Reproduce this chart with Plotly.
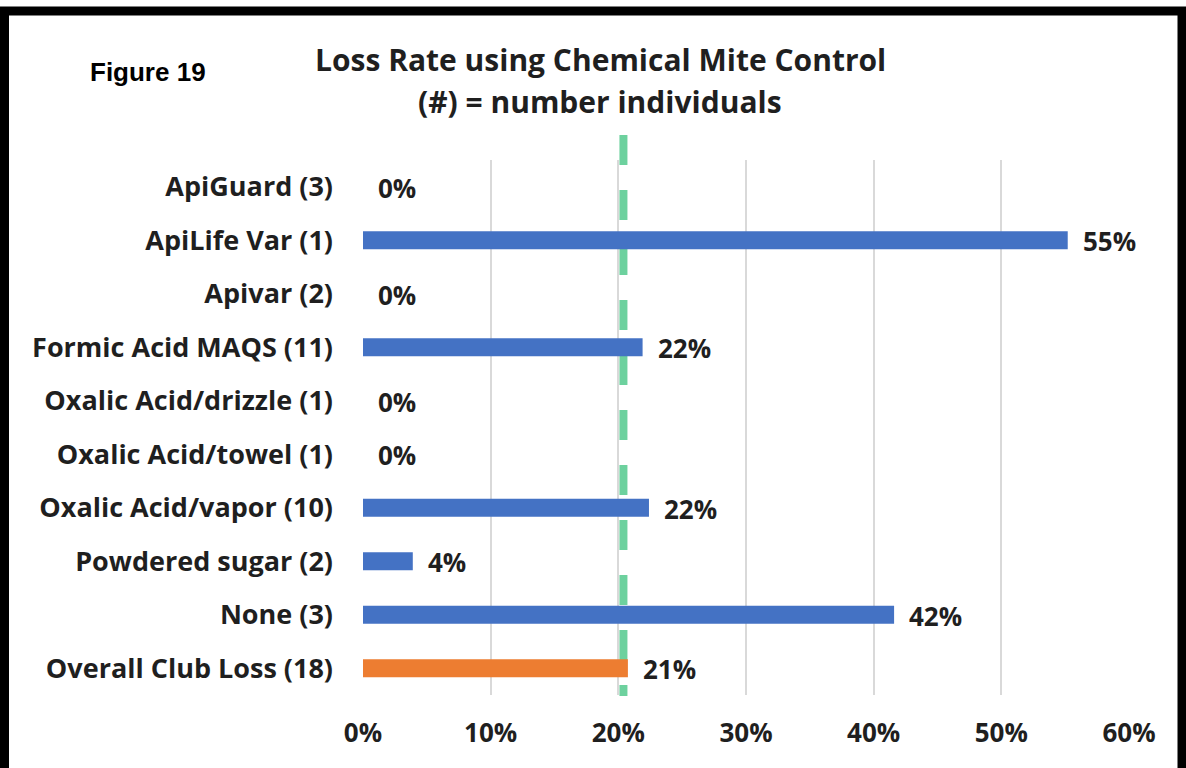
import plotly.graph_objects as go

categories = ["ApiGuard (3)", "ApiLife Var (1)", "Apivar (2)", "Formic Acid MAQS (11)",
              "Oxalic Acid/drizzle (1)", "Oxalic Acid/towel (1)", "Oxalic Acid/vapor (10)",
              "Powdered sugar (2)", "None (3)", "Overall Club Loss (18)"]
loss_rate = [0.0, 0.552, 0.0, 0.219, 0.0, 0.0, 0.224, 0.039, 0.416, 0.2075]
labels = ["0%", "55%", "0%", "22%", "0%", "0%", "22%", "4%", "42%", "21%"]
bar_colors = ["#4472C4"] * 9 + ["#ED7D31"]
reference_line = 0.204
x_ticks = [0, 0.1, 0.2, 0.3, 0.4, 0.5, 0.6]
x_tick_labels = ["0%", "10%", "20%", "30%", "40%", "50%", "60%"]

W, H = 1186, 768
L, R, T, B = 363, 57, 160, 73
pw, ph = W - L - R, H - T - B

def px_x(p):
    return (p - L) / pw

def px_y(p):
    return (H - B - p) / ph

FONT = "Open Sans"
TXT = "#1f1f1f"

fig = go.Figure()
fig.add_trace(go.Bar(
    y=categories, x=loss_rate, orientation="h",
    marker=dict(color=bar_colors, line=dict(width=0)),
    width=0.34, hoverinfo="skip",
))

for c, v, t in zip(categories, loss_rate, labels):
    fig.add_annotation(x=v, y=c, text=f"<b>{t}</b>", showarrow=False,
                       xanchor="left", xshift=13, yshift=-1,
                       font=dict(family=FONT, size=26, color=TXT))

fig.add_shape(type="line", xref="x", yref="paper", layer="between",
              x0=reference_line, x1=reference_line, y0=px_y(135), y1=px_y(696),
              line=dict(color="#6DD19E", width=8, dash="30px,25px"))

# outer black frame
fig.add_shape(type="rect", xref="paper", yref="paper",
              x0=px_x(4.5), x1=px_x(1182), y0=px_y(11), y1=px_y(790),
              line=dict(color="black", width=9), fillcolor="rgba(0,0,0,0)")

fig.add_annotation(xref="paper", yref="paper", x=px_x(600), y=px_y(60),
                   text="<b>Loss Rate using Chemical Mite Control</b>", showarrow=False,
                   font=dict(family=FONT, size=30, color=TXT), xanchor="center", yanchor="middle")
fig.add_annotation(xref="paper", yref="paper", x=px_x(600), y=px_y(101),
                   text="<b>(#) = number individuals</b>", showarrow=False,
                   font=dict(family=FONT, size=30, color=TXT), xanchor="center", yanchor="middle")
fig.add_annotation(xref="paper", yref="paper", x=px_x(88), y=px_y(72),
                   text="<b>Figure 19</b>", showarrow=False,
                   font=dict(family="Liberation Sans", size=26, color="black"),
                   xanchor="left", yanchor="middle")

fig.update_layout(
    width=W, height=H, margin=dict(l=L, r=R, t=T, b=B, autoexpand=False),
    paper_bgcolor="white", plot_bgcolor="white", showlegend=False,
)
fig.update_xaxes(range=[0, 0.6], tickvals=x_ticks, ticktext=[f"<b>{t}</b>" for t in x_tick_labels],
                 showgrid=True, gridcolor="#D9D9D9", gridwidth=1.5, zeroline=False,
                 showline=False, ticks="", ticklabelstandoff=20,
                 tickfont=dict(family=FONT, size=26, color=TXT))
fig.update_yaxes(categoryorder="array", categoryarray=categories, autorange="reversed",
                 tickvals=categories, ticktext=[f"<b>{c}</b>" for c in categories],
                 showgrid=False, zeroline=False, showline=False, ticks="", ticklabelstandoff=29,
                 tickfont=dict(family=FONT, size=27, color=TXT))

fig.write_html("out.html", config={"displayModeBar": False},
               post_script="document.body.style.margin='0';")
